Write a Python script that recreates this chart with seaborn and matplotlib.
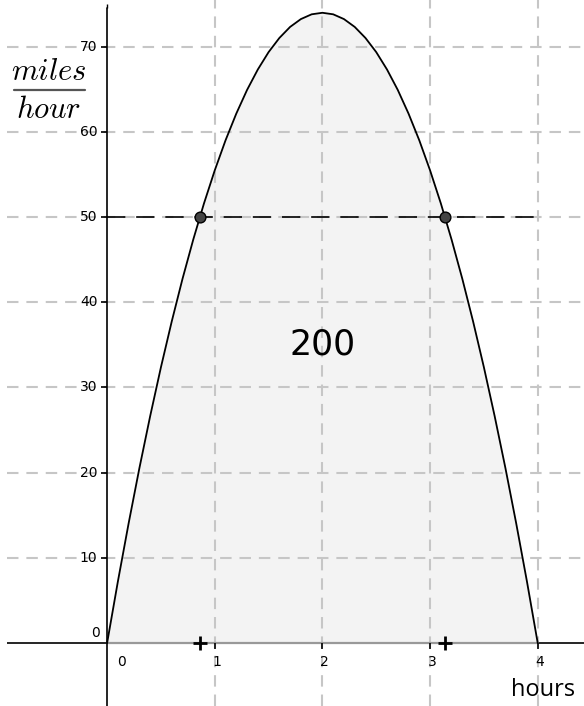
import numpy as np
import pandas as pd
import matplotlib
matplotlib.use("Agg")
import matplotlib.pyplot as plt
import seaborn as sns

# ---- data ----
hours = [round(0.1 * i, 1) for i in range(41)]
speed_half = [0, 7.22, 14.06, 20.54, 26.64, 32.38, 37.74, 42.74, 47.36, 51.62, 55.5,
              59.02, 62.16, 64.94, 67.34, 69.38, 71.04, 72.34, 73.26, 73.82]
speed = speed_half + [74.0] + speed_half[::-1]
cross_t = [0.86, 3.14]
cross_v = [50, 50]
level = 50
area_label = "200"
x_ticks = [0, 1, 2, 3, 4]
y_ticks = [0, 10, 20, 30, 40, 50, 60, 70]

df = pd.DataFrame({"hours": hours, "speed": speed})
pts = pd.DataFrame({"hours": cross_t, "speed": cross_v})

sns.set_theme(style="white")
plt.rcParams["mathtext.fontset"] = "cm"
plt.rcParams["font.family"] = ["DejaVu Sans"]
plt.rcParams["text.color"] = "black"

fig = plt.figure(figsize=(5.84, 7.06), dpi=100)
ax = fig.add_axes([7 / 584, 0, 1 - 7 / 584, 1])
ax.set_xlim(-0.93, 4.43)
ax.set_ylim(-7.4, 75.5)

# filled area
ax.fill_between(df["hours"], df["speed"], 0, color="#f3f3f3", zorder=1, lw=0)

# grid (drawn over the fill, as in the reference)
grid_kw = dict(color="#c6c6c6", lw=1.5, ls=(0, (5.5, 3.8)), zorder=1.5)
for xv in [1, 2, 3, 4]:
    ax.axvline(xv, **grid_kw)
for yv in [10, 20, 30, 40, 50, 60, 70]:
    ax.axhline(yv, **grid_kw)

# axes lines
ax.axhline(0, color="black", lw=1.2, zorder=2, xmax=(0 + 0.93) / 5.36)
ax.axhline(0, color="black", lw=1.2, zorder=2, xmin=(4 + 0.93) / 5.36)
ax.plot([0, 4], [0, 0], color="#999999", lw=1.6, zorder=2)
ax.axvline(0, color="black", lw=1.2, zorder=2, ymax=(75.5 - 0.9 + 7.4) / 82.9)
ax.plot([0], [74.6], marker=2, color="black", ms=3, zorder=2)

# level line
ax.plot([0, 4], [level, level], color="black", lw=1.2, ls=(0, (11, 6.5)), zorder=3)

# curve
sns.lineplot(data=df, x="hours", y="speed", color="black", lw=1.3, ax=ax,
             zorder=4, sort=False)

# crossing points
sns.scatterplot(data=pts, x="hours", y="speed", color="#444444",
                edgecolor="black", linewidth=1.0, s=60, ax=ax, zorder=5)

# plus markers on the x axis
ax.scatter(cross_t, [0, 0], marker="+", s=100, color="black",
           linewidths=2, zorder=6)

# area label
ax.text(2, 35, area_label, fontsize=25, ha="center", va="center", zorder=6,
        color="black")

# ticks
for sp in ax.spines.values():
    sp.set_visible(False)
ax.set_xticks([])
ax.set_yticks([])
ax.set_xlabel("")
ax.set_ylabel("")
ax.grid(False)

for xv in x_ticks:
    if xv == 0:
        ax.annotate("0", (0, 0), xytext=(10, -9), textcoords="offset points",
                    ha="center", va="top", fontsize=10)
    else:
        ax.annotate(str(xv), (xv, 0), xytext=(1.5, -9), textcoords="offset points",
                    ha="center", va="top", fontsize=10)
        ax.plot([xv], [0], marker=3, ms=4, color="black", zorder=3, mew=1.2)
for yv in y_ticks:
    if yv == 0:
        ax.annotate("0", (0, 0), xytext=(-5, 7), textcoords="offset points",
                    ha="right", va="center", fontsize=10)
    else:
        ax.annotate(str(yv), (0, yv), xytext=(-7, 0), textcoords="offset points",
                    ha="right", va="center", fontsize=10)
        ax.plot([0], [yv], marker=0, ms=4, color="black", zorder=3, mew=1.2)

# axis titles
ax.text(4.05, -5.5, "hours", fontsize=17, ha="center", va="center",
        family=["Open Sans", "DejaVu Sans"])
fig.text(49 / 584, 1 - 72 / 706, r"$miles$", fontsize=22, ha="center",
         va="center")
fig.text(49 / 584, 1 - 109 / 706, r"$hour$", fontsize=22, ha="center",
         va="center")
fig.add_artist(plt.Line2D([14 / 584, 85 / 584], [1 - 90 / 706, 1 - 90 / 706],
                          color="#555555", lw=1.6, transform=fig.transFigure))

fig.savefig("out.png", dpi=100, facecolor="white")
